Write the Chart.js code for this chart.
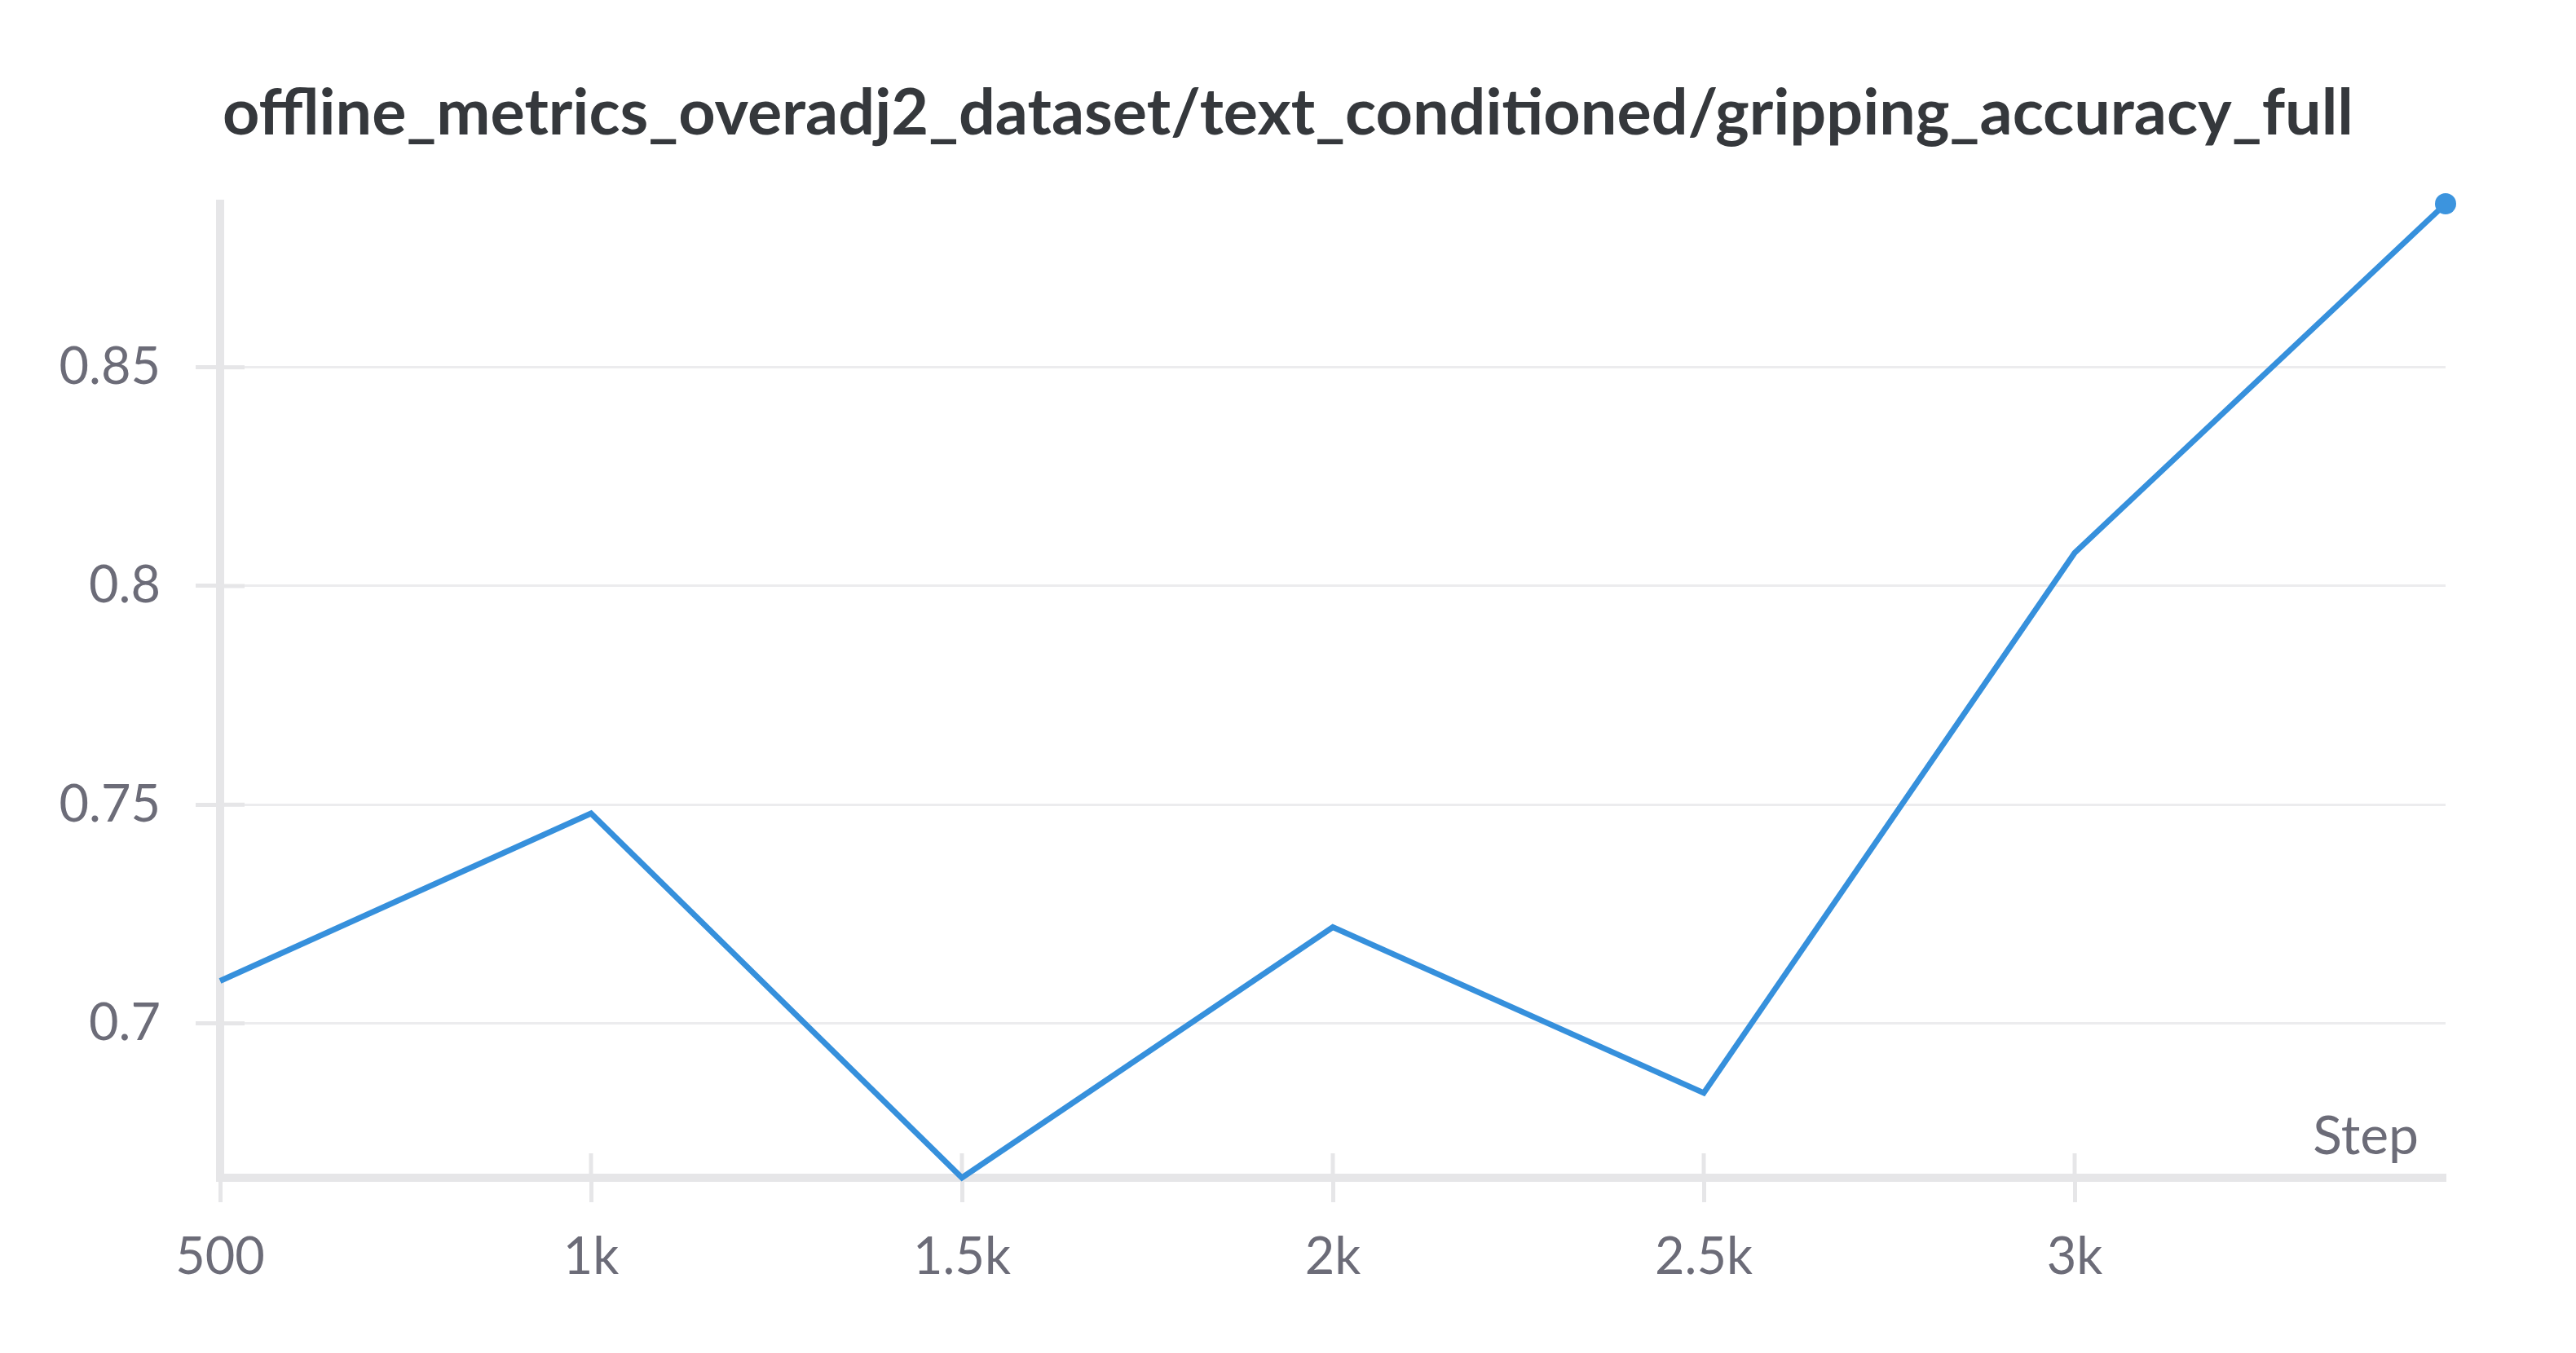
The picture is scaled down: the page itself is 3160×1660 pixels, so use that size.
<!DOCTYPE html>
<html><head><meta charset="utf-8">
<script src="https://cdn.jsdelivr.net/npm/chart.js@4.4.1/dist/chart.umd.min.js"></script>
<style>html,body{margin:0;padding:0;background:#fff;}#wrap{width:3160px;height:1660px;position:relative}</style>
</head><body><div id="wrap"><canvas id="c" width="3160" height="1660"></canvas></div>
<script>
const chartTitle = 'offline_metrics_overadj2_dataset/text_conditioned/gripping_accuracy_full';
const xAxisLabel = 'Step';
const steps = [500, 1000, 1500, 2000, 2500, 3000, 3500];
const accuracy = [0.7097, 0.748, 0.6647, 0.722, 0.6841, 0.8076, 0.8874];
const xTickValues = [500, 1000, 1500, 2000, 2500, 3000];
const xTickLabels = ['500', '1k', '1.5k', '2k', '2.5k', '3k'];
const yTickValues = [0.7, 0.75, 0.8, 0.85];
const yTickLabels = ['0.7', '0.75', '0.8', '0.85'];
const xMin = 500, xMax = 3500, yMin = 0.6647, yMax = 0.8874;

const lineColor = 'rgb(54,144,220)';
const axisColor = '#e6e6e8';
const gridColor = '#ececee';
const tickTextColor = '#6c6c78';
const tickFont = {family: 'Lato', size: 63};

const overlayPlugin = {
  id: 'overlay',
  beforeDatasetsDraw(chart) {
    const {ctx, chartArea, scales} = chart;
    ctx.save();
    ctx.strokeStyle = axisColor;
    ctx.lineWidth = 5;
    xTickValues.forEach(v => {
      const px = scales.x.getPixelForValue(v);
      ctx.beginPath(); ctx.moveTo(px, chartArea.bottom - 30); ctx.lineTo(px, chartArea.bottom); ctx.stroke();
    });
    yTickValues.forEach(v => {
      const py = scales.y.getPixelForValue(v);
      ctx.beginPath(); ctx.moveTo(chartArea.left, py); ctx.lineTo(chartArea.left + 30, py); ctx.stroke();
    });
    ctx.restore();
  },
  afterDraw(chart) {
    const {ctx, chartArea, width} = chart;
    ctx.save();
    ctx.fillStyle = '#35383c';
    ctx.textAlign = 'center';
    ctx.textBaseline = 'alphabetic';
    ctx.font = 'bold 100px Lato';
    const w100 = ctx.measureText(chartTitle).width;
    const size = Math.min(84, 100 * 2614 / w100);
    ctx.font = 'bold ' + size.toFixed(2) + 'px Lato';
    ctx.fillText(chartTitle, width / 2, 165);
    ctx.fillStyle = tickTextColor;
    ctx.textAlign = 'right';
    ctx.font = '66px Lato';
    ctx.fillText(xAxisLabel, chartArea.right - 33, chartArea.bottom - 29);
    ctx.restore();
  }
};

new Chart(document.getElementById('c'), {
  type: 'line',
  data: {
    datasets: [{
      data: steps.map((s, i) => ({x: s, y: accuracy[i]})),
      borderColor: lineColor,
      backgroundColor: lineColor,
      borderWidth: 7,
      borderJoinStyle: 'miter',
      tension: 0,
      fill: false,
      clip: false,
      pointRadius: c => c.dataIndex === steps.length - 1 ? 13 : 0,
      pointHoverRadius: c => c.dataIndex === steps.length - 1 ? 13 : 0,
      pointBorderWidth: 0,
      pointBackgroundColor: 'rgb(60,148,222)'
    }]
  },
  options: {
    responsive: false,
    animation: false,
    devicePixelRatio: 1,
    layout: {padding: {top: 250, right: 160, left: 0, bottom: 0}},
    plugins: {legend: {display: false}, tooltip: {enabled: false}, title: {display: false}},
    scales: {
      x: {
        type: 'linear', min: xMin, max: xMax,
        afterFit: s => { s.height = 215; },
        afterBuildTicks: s => { s.ticks = xTickValues.map(v => ({value: v})); },
        border: {display: true, color: axisColor, width: 10},
        grid: {drawOnChartArea: false, drawTicks: true, tickLength: 30, tickWidth: 5, tickColor: axisColor},
        ticks: {
          autoSkip: false, maxRotation: 0, minRotation: 0, padding: 30,
          color: tickTextColor, font: tickFont,
          callback: (v, i) => xTickLabels[i]
        }
      },
      y: {
        type: 'linear', min: yMin, max: yMax,
        afterFit: s => { s.width = 270; },
        afterBuildTicks: s => { s.ticks = yTickValues.map(v => ({value: v})); },
        border: {display: true, color: axisColor, width: 10},
        grid: {drawOnChartArea: true, color: gridColor, lineWidth: 3, drawTicks: true, tickLength: 30, tickWidth: 5, tickColor: axisColor},
        ticks: {
          padding: 43, color: tickTextColor, font: tickFont,
          callback: (v, i) => yTickLabels[i]
        }
      }
    }
  },
  plugins: [overlayPlugin]
});
</script></body></html>
